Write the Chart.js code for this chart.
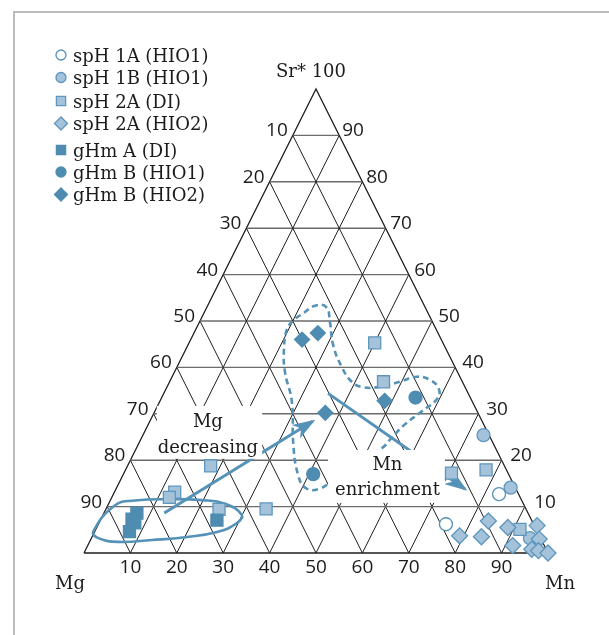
<!DOCTYPE html>
<html>
<head>
<meta charset="utf-8">
<title>Mg - Sr* - Mn ternary</title>
<script src="https://cdn.jsdelivr.net/npm/chart.js@4.4.1/dist/chart.umd.min.js"></script>
<style>
  html, body { margin: 0; padding: 0; background: #fff; overflow: hidden; }
  #frame { position: absolute; left: 13px; top: 11px; right: -5px; bottom: -5px;
           border-left: 2px solid #bcbcbc; border-top: 2px solid #bcbcbc; }
  #ternary { position: absolute; left: 0; top: 0; }
</style>
</head>
<body>
<div id="frame"></div>
<canvas id="ternary" width="609" height="635"></canvas>
<script>
// ternary points are [Mn, Sr*] in %, Mg = 100 - Mn - Sr*
const ticks = [10, 20, 30, 40, 50, 60, 70, 80, 90];

const spH1A_HIO1 = [[83.1, 12.7], [74.9, 6.2]];
const spH1B_HIO1 = [[73.4, 25.4], [84.9, 14.1], [94.5, 3.2]];
const spH2A_DI = [[40.0, 45.3], [46.1, 36.9], [17.9, 18.8], [13.0, 13.1], [12.4, 12.0],
                  [24.4, 9.4], [34.5, 9.5], [70.6, 17.2], [77.7, 17.9], [91.4, 5.1]];
const spH2A_HIO2 = [[79.1, 3.7], [83.9, 3.5], [83.7, 6.9], [88.6, 5.5], [91.6, 1.6],
                    [94.7, 5.9], [96.6, 3.0], [96.1, 0.8], [97.7, 0.5], [100, 0]];
const gHmA_DI = [[7.1, 8.6], [6.7, 7.3], [7.7, 6.5], [7.5, 4.6], [25.1, 7.1]];
const gHmB_HIO1 = [[54.7, 33.5], [40.9, 17.0]];
const gHmB_HIO2 = [[24.0, 46.0], [26.7, 47.4], [48.4, 32.8], [36.9, 30.2]];

// outlines, arrows and text boxes in plot units (x along the base 0-100, y = Sr* height 0-100)
const ellipseOutline = [[2.0, 4.6], [3.1, 3.2], [7.4, 2.4], [14.6, 2.8], [21.8, 3.4], [28.9, 4.6],
  [32.9, 6.4], [34.0, 8.2], [30.4, 10.6], [25.4, 11.4], [18.2, 11.6], [11.0, 11.3], [6.7, 10.3]];
const dashedOutline = [[58.4, 19.6], [64.2, 22.6], [65.9, 24.4], [68.8, 27.4], [72.6, 30.4],
  [76.1, 33.2], [76.5, 35.3], [74.6, 37.3], [71.7, 38.0], [68.1, 36.9], [63.1, 35.7], [59.8, 35.8],
  [57.7, 36.9], [55.5, 40.2], [53.7, 44.8], [53.0, 49.8], [52.2, 53.0], [49.8, 53.3], [47.3, 51.7],
  [45.0, 50.0], [43.7, 48.1], [43.1, 44.1], [43.3, 39.1], [44.8, 32.6], [45.1, 23.6], [46.1, 17.0],
  [47.8, 14.0], [50.9, 13.9], [54.1, 16.2]];
const mgArrow = [[17.3, 8.6], [49.3, 28.4]];
const mnArrow = [[52.6, 34.4], [82.1, 13.8]];
const textBoxes = [[15.7, 31.7, 38.4, 20.3], [52.6, 22.2, 77.8, 10.8]];
const boxTexts = [[26.7, 27.2, 'Mg'], [26.7, 21.5, 'decreasing'],
                  [65.4, 17.9, 'Mn'], [65.4, 12.5, 'enrichment']];

const LIGHT = '#a4c2da', LIGHT_EDGE = '#5e96bd', DARK = '#4f8cb1', BLUE = '#5592b8', INK = '#1c1c1c';

const series = [
  { label: 'spH 1A (HIO1)', data: spH1A_HIO1, shape: 'circle', fill: '#ffffff', edge: BLUE, r: 6.5, lr: 5 },
  { label: 'spH 1B (HIO1)', data: spH1B_HIO1, shape: 'circle', fill: LIGHT, edge: LIGHT_EDGE, r: 6.5, lr: 5 },
  { label: 'spH 2A (DI)', data: spH2A_DI, shape: 'rect', fill: LIGHT, edge: LIGHT_EDGE, r: 8.5, lr: 6.5 },
  { label: 'spH 2A (HIO2)', data: spH2A_HIO2, shape: 'rectRot', fill: LIGHT, edge: LIGHT_EDGE, r: 8, lr: 6.5 },
  { label: 'gHm A (DI)', data: gHmA_DI, shape: 'rect', fill: DARK, edge: DARK, r: 8.5, lr: 6.5 },
  { label: 'gHm B (HIO1)', data: gHmB_HIO1, shape: 'circle', fill: DARK, edge: DARK, r: 6.5, lr: 5 },
  { label: 'gHm B (HIO2)', data: gHmB_HIO2, shape: 'rectRot', fill: DARK, edge: DARK, r: 7.5, lr: 6.5 }
];
const legendRows = [55, 77.5, 101, 123.5, 150, 172, 194.5];

function tern(p) { return { x: p[0] + p[1] / 2, y: p[1] }; }
function plot(p) { return { x: p[0], y: p[1] }; }

function lineSet(points, color, width, extra) {
  return Object.assign({
    data: points, showLine: true, pointRadius: 0, borderColor: color,
    borderWidth: width, fill: false, tension: 0, clip: false
  }, extra || {});
}

// closed smooth curve: first and last helper segments are hidden so the seam stays smooth
function loopSet(outline, color, width, dash) {
  const pts = outline.map(plot);
  const n = pts.length;
  const data = [pts[n - 1]].concat(pts, [pts[0], pts[1]]);
  const last = data.length - 1;
  return lineSet(data, color, width, {
    tension: 0.45,
    borderDash: dash,
    segment: {
      borderColor: c => (c.p0DataIndex === 0 || c.p1DataIndex === last) ? 'rgba(0,0,0,0)' : color
    }
  });
}

const markerSets = series.map(s => ({
  label: s.label, data: s.data.map(tern), pointStyle: s.shape, pointRadius: s.r,
  backgroundColor: s.fill, borderColor: s.edge, borderWidth: 1.3, showLine: false, clip: false
})).reverse();

const arrowSets = [mgArrow, mnArrow].map(a => lineSet(a.map(plot), BLUE, 3, { arrow: true }));

const gridSets = [];
ticks.forEach(k => {
  gridSets.push(lineSet([tern([0, k]), tern([100 - k, k])], '#6b6b6b', 1.4));
  gridSets.push(lineSet([tern([k, 0]), tern([k, 100 - k])], '#1e1e1e', 1));
  gridSets.push(lineSet([tern([100 - k, 0]), tern([0, 100 - k])], '#1e1e1e', 1));
});
gridSets.push(lineSet([[0, 0], [100, 0], [0, 100], [0, 0]].map(tern), '#1e1e1e', 1.3));

const datasets = markerSets.concat(arrowSets,
  [loopSet(ellipseOutline, BLUE, 2.6, []), loopSet(dashedOutline, BLUE, 2.6, [6, 4])],
  gridSets);

function drawSymbol(ctx, shape, x, y, r) {
  ctx.beginPath();
  if (shape === 'circle') ctx.arc(x, y, r, 0, Math.PI * 2);
  else if (shape === 'rect') { const s = r * Math.SQRT1_2; ctx.rect(x - s, y - s, 2 * s, 2 * s); }
  else { ctx.moveTo(x - r, y); ctx.lineTo(x, y - r); ctx.lineTo(x + r, y); ctx.lineTo(x, y + r); ctx.closePath(); }
  ctx.fill();
  ctx.stroke();
}

const ternaryDecor = {
  id: 'ternaryDecor',
  beforeDatasetDraw(chart, args) {
    // runs once, just before the markers: arrow heads, then white boxes behind the texts
    if (args.index !== markerSets.length - 1) return;
    const ctx = chart.ctx;
    const xs = chart.scales.x, ys = chart.scales.y;
    chart.data.datasets.forEach((ds, i) => {
      if (!ds.arrow) return;
      const pts = chart.getDatasetMeta(i).data;
      const a = pts[0], b = pts[pts.length - 1];
      const ang = Math.atan2(b.y - a.y, b.x - a.x);
      const L = 23, W = 8;
      ctx.save();
      ctx.translate(b.x + Math.cos(ang) * 3, b.y + Math.sin(ang) * 3);
      ctx.rotate(ang);
      ctx.beginPath();
      ctx.moveTo(0, 0);
      ctx.lineTo(-L, -W);
      ctx.lineTo(-L * 0.72, 0);
      ctx.lineTo(-L, W);
      ctx.closePath();
      ctx.fillStyle = BLUE;
      ctx.fill();
      ctx.restore();
    });
    ctx.save();
    ctx.fillStyle = '#ffffff';
    textBoxes.forEach(bx => {
      const x1 = xs.getPixelForValue(bx[0]), y1 = ys.getPixelForValue(bx[1]);
      const x2 = xs.getPixelForValue(bx[2]), y2 = ys.getPixelForValue(bx[3]);
      ctx.fillRect(x1, y1, x2 - x1, y2 - y1);
    });
    ctx.restore();
  },
  afterDraw(chart) {
    const ctx = chart.ctx;
    const xs = chart.scales.x, ys = chart.scales.y;
    const X = p => xs.getPixelForValue(p.x), Y = p => ys.getPixelForValue(p.y);
    ctx.save();
    ctx.fillStyle = INK;
    ctx.textBaseline = 'alphabetic';

    // axis numbers
    ctx.font = '19px "Open Sans"';
    ticks.forEach(k => {
      const b = tern([k, 0]);
      ctx.textAlign = 'center';
      ctx.fillText(String(k), X(b), Y(b) + 20);
      const l = tern([0, 100 - k]);
      ctx.textAlign = 'right';
      ctx.fillText(String(k), X(l) - 5, Y(l) + 1);
      const r = tern([100 - k, k]);
      ctx.textAlign = 'left';
      ctx.fillText(String(k), X(r) + 3 + (90 - k) * 0.08, Y(r) + 1);
    });

    // corner labels
    ctx.font = '18px "DejaVu Serif"';
    ctx.textAlign = 'center';
    const top = tern([0, 100]), left = tern([0, 0]), right = tern([100, 0]);
    ctx.fillText('Sr* 100', X(top) - 5, Y(top) - 12);
    ctx.fillText('Mg', X(left) - 14, Y(left) + 36);
    ctx.fillText('Mn', X(right) + 12, Y(right) + 36);

    // annotation texts
    boxTexts.forEach(t => ctx.fillText(t[2], xs.getPixelForValue(t[0]), ys.getPixelForValue(t[1])));

    // legend
    ctx.font = '18px "DejaVu Serif"';
    ctx.textAlign = 'left';
    series.forEach((s, i) => {
      const y = legendRows[i];
      ctx.fillStyle = s.fill;
      ctx.strokeStyle = s.edge;
      ctx.lineWidth = 1.3;
      drawSymbol(ctx, s.shape, 61, y, s.lr);
      ctx.fillStyle = INK;
      ctx.fillText(s.label, 73, y + 6.5);
    });
    ctx.restore();
  }
};

new Chart(document.getElementById('ternary'), {
  type: 'scatter',
  data: { datasets: datasets },
  options: {
    responsive: false,
    animation: false,
    events: [],
    layout: { padding: { left: 84, right: 61, top: 89, bottom: 82 } },
    scales: {
      x: { type: 'linear', min: 0, max: 100, display: false },
      y: { type: 'linear', min: 0, max: 100, display: false }
    },
    plugins: { legend: { display: false }, tooltip: { enabled: false } }
  },
  plugins: [ternaryDecor]
});
</script>
</body>
</html>
